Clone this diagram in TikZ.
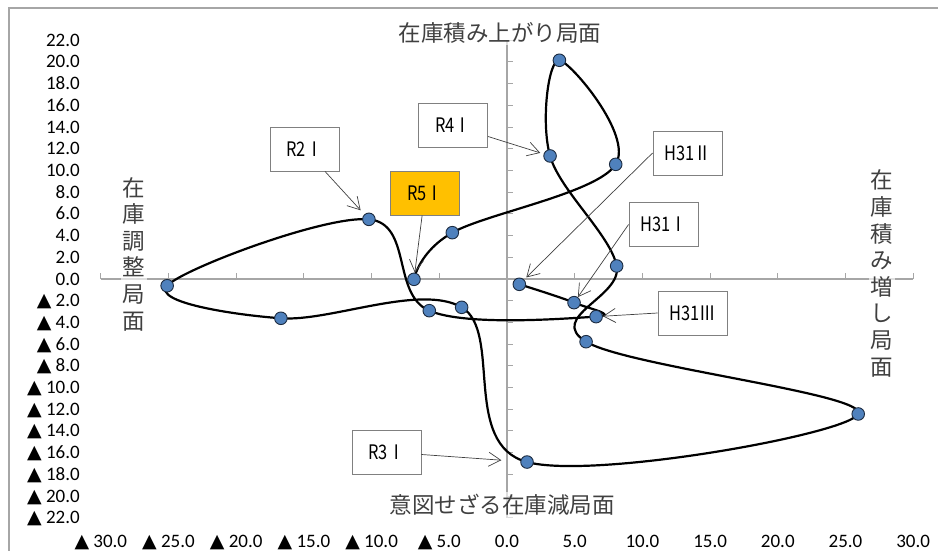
\documentclass[tikz,border=0pt]{standalone}
\usepackage{fontspec}
\usepackage{xcolor}
\usepackage{tikz}
\usetikzlibrary{arrows.meta}
\setmainfont{Carlito}
\newfontfamily\jpfont{Noto Sans CJK JP}
\newfontfamily\boxfont{Noto Sans CJK JP}[FakeStretch=0.82]
\newfontfamily\trifont{DejaVu Sans}
\definecolor{axisgray}{HTML}{A6A6A6}
\definecolor{boxgray}{HTML}{808080}
\definecolor{dotblue}{HTML}{4F81BD}
\definecolor{dotedge}{HTML}{1C2B40}
\definecolor{r5orange}{HTML}{FFC000}
\definecolor{phasegray}{HTML}{404040}
\newcommand{\mtri}{{\trifont ▲}\ }

\begin{document}
\begin{tikzpicture}[x=1pt,y=-1pt]
\tikzstyle{every node}+=[inner sep=0pt]
\tikzstyle{tick}=[axisgray,line width=1pt]
\tikzstyle{numlab}=[font=\fontsize{19}{19}\selectfont,text height=12pt,text depth=0pt]
\tikzstyle{phase}=[font=\jpfont\fontsize{22.5}{26.6}\selectfont,text=phasegray,fill=white,fill opacity=0.65,text opacity=1,inner sep=2pt]
\tikzstyle{dot}=[circle,fill=dotblue,draw=dotedge,line width=0.9pt,minimum size=12.6pt]
\tikzstyle{callout}=[draw=boxgray,line width=0.9pt,fill=white,minimum width=69pt,minimum height=44pt,font=\boxfont\fontsize{20}{20}\selectfont]
\tikzstyle{pointer}=[draw=phasegray,line width=0.7pt,-{Straight Barb[length=12pt,width=14pt]}]

\useasboundingbox (0,0) rectangle (938,551);
\clip (0,0) rectangle (938,551);
\draw[axisgray,line width=1.2pt] (9,8) rectangle (950,570);

\draw[axisgray,line width=1.5pt] (101,279) -- (913,279);
\draw[axisgray,line width=1.5pt] (507,40.3) -- (507,517.7);
\foreach \i in {-6,...,6}
  \draw[tick] ({507+67.7*\i},279) -- ({507+67.7*\i},273);
\foreach \j in {-11,...,11}
  \draw[tick] (507,{279-21.7*\j}) -- (513,{279-21.7*\j});

\foreach \j [evaluate=\j as \v using int(2*\j)] in {0,...,11}
  \node[numlab,anchor=east] (yp\j) at (80,{279-21.7*\j}) {\v.0};
\foreach \j [evaluate=\j as \v using int(2*\j)] in {1,...,11}
  \node[numlab,anchor=east] (yn\j) at (80,{279+21.7*\j}) {\mtri\v.0};
\foreach \i [evaluate=\i as \v using int(5*\i)] in {0,...,6}
  \node[numlab] (xp\i) at ({507+67.7*\i},541) {\v.0};
\foreach \i [evaluate=\i as \v using int(5*\i)] in {1,...,6}
  \node[numlab] (xn\i) at ({507-67.7*\i},541) {\mtri\v.0};

\node[phase] (up) at (500,33) {在庫積み上がり局面};
\node[phase] (down) at (502,505) {意図せざる在庫減局面};
\node[phase,align=center] (adj) at (134,254) {在\\庫\\調\\整\\局\\面};
\node[phase,align=center] (grow) at (882,273.5) {在\\庫\\積\\み\\増\\し\\局\\面};

\begin{scope}[shift={(507,279)},x=13.54pt,y=10.85pt]
\coordinate (q1) at (0.91,-0.49);
\coordinate (q2) at (4.95,-2.18);
\coordinate (q3) at (6.58,-3.47);
\coordinate (q4) at (-5.74,-2.92);
\coordinate (q5) at (-10.20,5.50);
\coordinate (q6) at (-25.10,-0.62);
\coordinate (q7) at (-16.70,-3.62);
\coordinate (q8) at (-3.35,-2.61);
\coordinate (q9) at (1.48,-16.87);
\coordinate (q10) at (25.94,-12.44);
\coordinate (q11) at (5.84,-5.78);
\coordinate (q12) at (8.10,1.20);
\coordinate (q13) at (3.18,11.34);
\coordinate (q14) at (3.87,20.16);
\coordinate (q15) at (8.03,10.57);
\coordinate (q16) at (-4.04,4.27);
\coordinate (q17) at (-6.87,-0.03);
\end{scope}
\draw[line width=2.2pt] plot[smooth,tension=0.6] coordinates {(q1) (q2) (q3) (q4) (q5) (q6) (q7) (q8) (q9) (q10) (q11) (q12) (q13) (q14) (q15) (q16) (q17)};
\foreach \k in {1,...,17}
  \node[dot] (d\k) at (q\k) {};

\node[callout] (h31b) at (687.5,153) {H31Ⅱ};
\node[callout] (h31a) at (663.5,224.5) {H31Ⅰ};
\node[callout] (h31c) at (692.5,313) {H31Ⅲ};
\node[callout] (r2) at (304.5,149) {R2Ⅰ};
\node[callout] (r3) at (386.5,452) {R3Ⅰ};
\node[callout] (r4) at (453,125.5) {R4Ⅰ};
\node[callout,fill=r5orange] (r5) at (425,193) {R5Ⅰ};
\draw[pointer,shorten >=3pt] (h31b.west) -- (d1);
\draw[pointer] (h31a.west) -- (d2);
\draw[pointer] (h31c.west) -- (d3);
\draw[pointer,shorten >=5.5pt] (r2) -- (d5);
\draw[pointer,shorten >=19pt] (r3) -- (d9);
\draw[pointer,shorten >=3.5pt] (r4) -- (d13);
\draw[pointer] (r5) -- (d17);
\end{tikzpicture}
\end{document}
